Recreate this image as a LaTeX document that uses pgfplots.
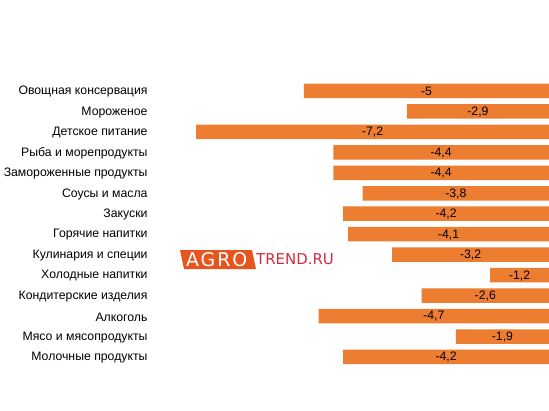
\documentclass[border=0pt]{standalone}
\usepackage{pgfplots}
\pgfplotsset{compat=1.18}
\usepackage{pgfplotstable}
\usepackage{fontspec}
\setmainfont{Liberation Sans}
\newfontfamily\logofont[LetterSpace=10]{DejaVu Sans}
\newfontfamily\logofontb{DejaVu Sans}
\definecolor{barorange}{HTML}{ED7D31}
\definecolor{logoorange}{HTML}{E8541E}
\definecolor{logored}{HTML}{D42A3C}
\pgfplotstableread{
idx v lab
0 -5.0 -5
1 -2.9 -2,9
2 -7.2 -7,2
3 -4.4 -4,4
4 -4.4 -4,4
5 -3.8 -3,8
6 -4.2 -4,2
7 -4.1 -4,1
8 -3.2 -3,2
9 -1.2 -1,2
10 -2.6 -2,6
11 -4.7 -4,7
12 -1.9 -1,9
13 -4.2 -4,2
}\datatable
\begin{document}
\begin{tikzpicture}[x=1bp,y=1bp]
\path[use as bounding box] (0,0) rectangle (549,410);
\begin{axis}[
  at={(147bp,42.8bp)}, anchor=south west,
  scale only axis,
  width=402bp, height=286.5bp,
  xmin=-8.2, xmax=0,
  ymin=-0.5, ymax=13.5,
  y dir=reverse,
  axis line style={draw=none},
  tick style={draw=none},
  xtick=\empty,
  ytick={0,...,13},
  yticklabels={Овощная консервация,Мороженое,Детское питание,Рыба и морепродукты,Замороженные продукты,Соусы и масла,Закуски,Горячие напитки,Кулинария и специи,Холодные напитки,Кондитерские изделия,Алкоголь,Мясо и мясопродукты,Молочные продукты},
  yticklabel style={font=\fontsize{12.3}{14}\selectfont, anchor=east, xshift=4bp, yshift=-0.8bp},
  clip=false,
]
\addplot[xbar, bar width=14.5bp, fill=barorange, draw=none] table[x=v, y=idx] {\datatable};
\addplot[only marks, mark=none, nodes near coords, point meta=explicit symbolic,
  nodes near coords style={anchor=center, font=\fontsize{12.3}{14}\selectfont, text=black, yshift=-0.5bp}]
  table[x expr=\thisrow{v}/2, y=idx, meta=lab] {\datatable};
\end{axis}
\fill[logoorange] (184,141) -- (256,141) -- (252,160) -- (180,160) -- cycle;
\node[anchor=west, inner sep=0pt, text=white, font=\logofont\fontsize{19}{19}\selectfont] at (186,150.5) {AGRO};
\node[anchor=west, inner sep=0pt, text=logored, font=\logofontb\fontsize{15}{15}\selectfont] at (256,150.5) {TREND.RU};
\end{tikzpicture}
\end{document}
